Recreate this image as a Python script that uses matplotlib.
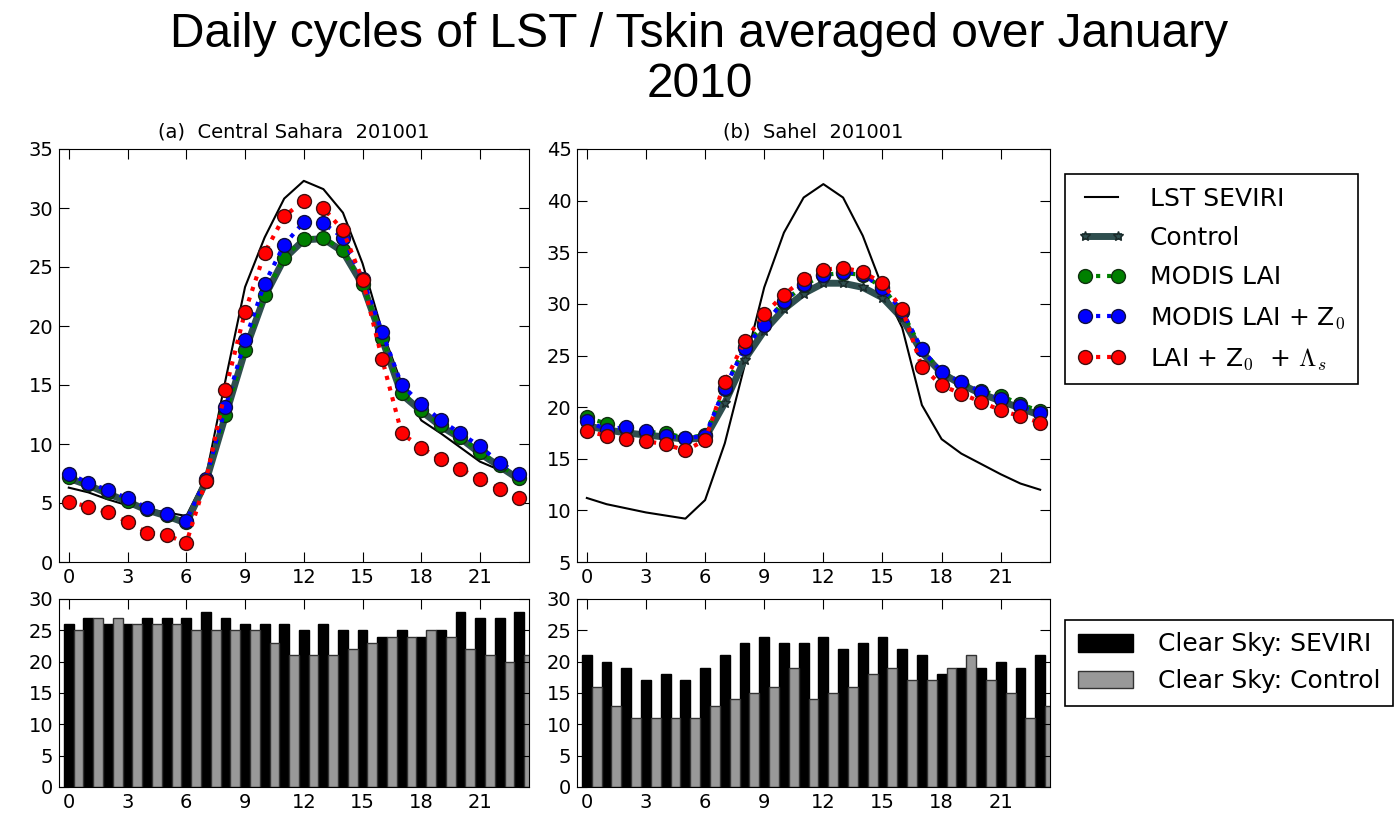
import numpy as np
import matplotlib
matplotlib.use('Agg')
import matplotlib.pyplot as plt

plt.rcParams['mathtext.fontset'] = 'cm'
plt.rcParams['font.family'] = 'DejaVu Sans'

# hours of the day
hours = np.arange(24)

# (a) Central Sahara
sahara_lst = [6.3, 5.9, 5.3, 4.8, 4.5, 4.2, 3.9, 7.2, 15.4, 23.3, 27.5, 30.8,
              32.3, 31.6, 29.6, 25.3, 19.6, 15.1, 12.0, 10.9, 9.7, 8.5, 7.8, 7.2]
sahara_control = [7.1, 6.5, 5.8, 5.1, 4.4, 3.9, 3.3, 6.8, 12.4, 17.9, 22.5, 25.7,
                  27.3, 27.4, 26.3, 23.5, 18.9, 14.2, 12.8, 11.5, 10.5, 9.2, 8.1, 7.0]
sahara_modis = [7.2, 6.6, 5.9, 5.2, 4.5, 4.0, 3.4, 6.9, 12.5, 18.0, 22.6, 25.8,
                27.4, 27.5, 26.4, 23.6, 19.0, 14.3, 12.9, 11.6, 10.6, 9.3, 8.2, 7.1]
sahara_modis_z0 = [7.5, 6.7, 6.1, 5.4, 4.6, 4.1, 3.5, 7.0, 13.1, 18.8, 23.6, 26.9,
                   28.8, 28.7, 27.5, 24.0, 19.5, 15.0, 13.4, 12.0, 10.9, 9.8, 8.4, 7.5]
sahara_all = [5.1, 4.7, 4.2, 3.4, 2.5, 2.3, 1.6, 6.9, 14.6, 21.2, 26.2, 29.3,
              30.6, 30.0, 28.1, 23.9, 17.2, 10.9, 9.7, 8.7, 7.9, 7.0, 6.2, 5.4]
sahara_clear_seviri = [26, 27, 26, 26, 27, 27, 27, 28, 27, 26, 26, 26,
                       25, 26, 25, 25, 24, 25, 24, 25, 28, 27, 27, 28]
sahara_clear_control = [25, 27, 27, 26, 26, 26, 25, 25, 25, 25, 23, 21,
                        21, 21, 22, 23, 24, 24, 25, 24, 22, 21, 20, 21]

# (b) Sahel
sahel_lst = [11.2, 10.6, 10.2, 9.8, 9.5, 9.2, 11.0, 16.5, 24.0, 31.6, 36.9, 40.3,
             41.6, 40.3, 36.6, 31.6, 27.7, 20.2, 16.9, 15.5, 14.5, 13.5, 12.6, 12.0]
sahel_control = [18.2, 17.8, 17.5, 17.3, 17.1, 16.9, 17.0, 20.4, 24.6, 27.4, 29.5, 31.0,
                 32.0, 32.0, 31.6, 30.6, 28.6, 25.3, 23.3, 22.2, 21.3, 20.6, 19.9, 19.2]
sahel_modis = [19.0, 18.4, 18.0, 17.6, 17.5, 17.0, 17.3, 21.8, 25.8, 28.1, 30.2, 31.8,
               32.8, 33.0, 32.8, 31.6, 29.2, 25.6, 23.4, 22.4, 21.6, 21.1, 20.3, 19.6]
sahel_modis_z0 = [18.7, 17.8, 18.1, 17.7, 17.2, 17.0, 17.2, 21.9, 25.7, 28.0, 30.3, 31.9,
                  32.8, 33.1, 32.9, 31.5, 29.3, 25.6, 23.4, 22.4, 21.5, 20.8, 20.1, 19.4]
sahel_all = [17.7, 17.2, 16.9, 16.7, 16.4, 15.8, 16.8, 22.4, 26.4, 29.0, 30.9, 32.4,
             33.3, 33.5, 33.1, 32.0, 29.5, 23.9, 22.1, 21.3, 20.5, 19.7, 19.1, 18.5]
sahel_clear_seviri = [21, 20, 19, 17, 18, 17, 19, 21, 23, 24, 23, 23,
                      24, 22, 23, 24, 22, 21, 18, 19, 19, 20, 19, 21]
sahel_clear_control = [16, 13, 11, 11, 11, 11, 13, 14, 15, 16, 19, 14,
                       15, 16, 18, 19, 17, 17, 19, 21, 17, 15, 11, 13]

labels = ['LST SEVIRI', 'Control', 'MODIS LAI', 'MODIS LAI + Z$_0$',
          'LAI + Z$_0$  + $\\Lambda_s$']
bar_labels = ['Clear Sky: SEVIRI', 'Clear Sky: Control']
xticks = [0, 3, 6, 9, 12, 15, 18, 21]

W, H = 1399, 816
fig = plt.figure(figsize=(W / 100, H / 100), dpi=100)


def box(x0, x1, y0, y1):
    # pixel box -> figure fraction
    return [x0 / W, 1 - y1 / H, (x1 - x0) / W, (y1 - y0) / H]


def style_axes(ax):
    ax.tick_params(direction='in', top=True, right=True, length=7,
                   labelsize=14, pad=4)
    ax.set_xlim(-0.5, 23.5)
    ax.set_xticks(xticks)


def line_panel(ax, lst, ctrl, modis, modis_z0, allv, title, ylim):
    ax.plot(hours, lst, color='black', lw=1.5, label=labels[0])
    ax.plot(hours, ctrl, color='#2f4f4f', lw=5, marker='*', ms=7,
            mec='#1a2a2a', label=labels[1])
    ax.plot(hours, modis, color='green', lw=3, ls=':', marker='o', ms=10,
            mec='#103010', label=labels[2])
    ax.plot(hours, modis_z0, color='blue', lw=3, ls=':', marker='o', ms=10,
            mec='#101040', label=labels[3])
    ax.plot(hours, allv, color='red', lw=3, ls=':', marker='o', ms=10,
            mec='#401010', label=labels[4])
    ax.set_ylim(ylim)
    ax.set_yticks(np.arange(ylim[0], ylim[1] + 1, 5))
    ax.set_title(title, fontsize=14, pad=8)
    style_axes(ax)


def bar_panel(ax, seviri, control):
    ax.bar(hours, seviri, width=0.5, color='black', edgecolor='black',
           label=bar_labels[0])
    ax.bar(hours + 0.5, control, width=0.5, color='#999999', edgecolor='#333333',
           label=bar_labels[1])
    ax.set_ylim(0, 30)
    ax.set_yticks(np.arange(0, 31, 5))
    style_axes(ax)


ax1 = fig.add_axes(box(59, 529, 149, 562))
line_panel(ax1, sahara_lst, sahara_control, sahara_modis, sahara_modis_z0,
           sahara_all, '(a)  Central Sahara  201001', (0, 35))

ax2 = fig.add_axes(box(577, 1050, 149, 562))
line_panel(ax2, sahel_lst, sahel_control, sahel_modis, sahel_modis_z0,
           sahel_all, '(b)  Sahel  201001', (5, 45))

ax3 = fig.add_axes(box(59, 529, 599, 787))
bar_panel(ax3, sahara_clear_seviri, sahara_clear_control)

ax4 = fig.add_axes(box(577, 1050, 599, 787))
bar_panel(ax4, sahel_clear_seviri, sahel_clear_control)

# legends on the right
h, l = ax2.get_legend_handles_labels()
leg1 = fig.legend(h, l, loc='upper left', bbox_to_anchor=(1065 / W, 1 - 174 / H),
                  borderaxespad=0, fontsize=18, handlelength=1.9, numpoints=2,
                  fancybox=False, edgecolor='black', framealpha=1,
                  labelspacing=0.62, borderpad=0.5, handletextpad=1.0)
leg1.get_frame().set_linewidth(1.2)

h, l = ax4.get_legend_handles_labels()
leg2 = fig.legend(h, l, loc='upper left', bbox_to_anchor=(1065 / W, 1 - 620 / H),
                  borderaxespad=0, fontsize=18, handlelength=2.2,
                  fancybox=False, edgecolor='black', framealpha=1,
                  labelspacing=0.5, borderpad=0.5, handletextpad=1.0)
leg2.get_frame().set_linewidth(1.2)

# main title
fig.text(0.5, 1 - 12 / H, 'Daily cycles of LST / Tskin averaged over January\n2010',
         ha='center', va='top', fontsize=34.5, family='Liberation Sans',
         linespacing=1.15)

plt.savefig('out.png', dpi=100)
